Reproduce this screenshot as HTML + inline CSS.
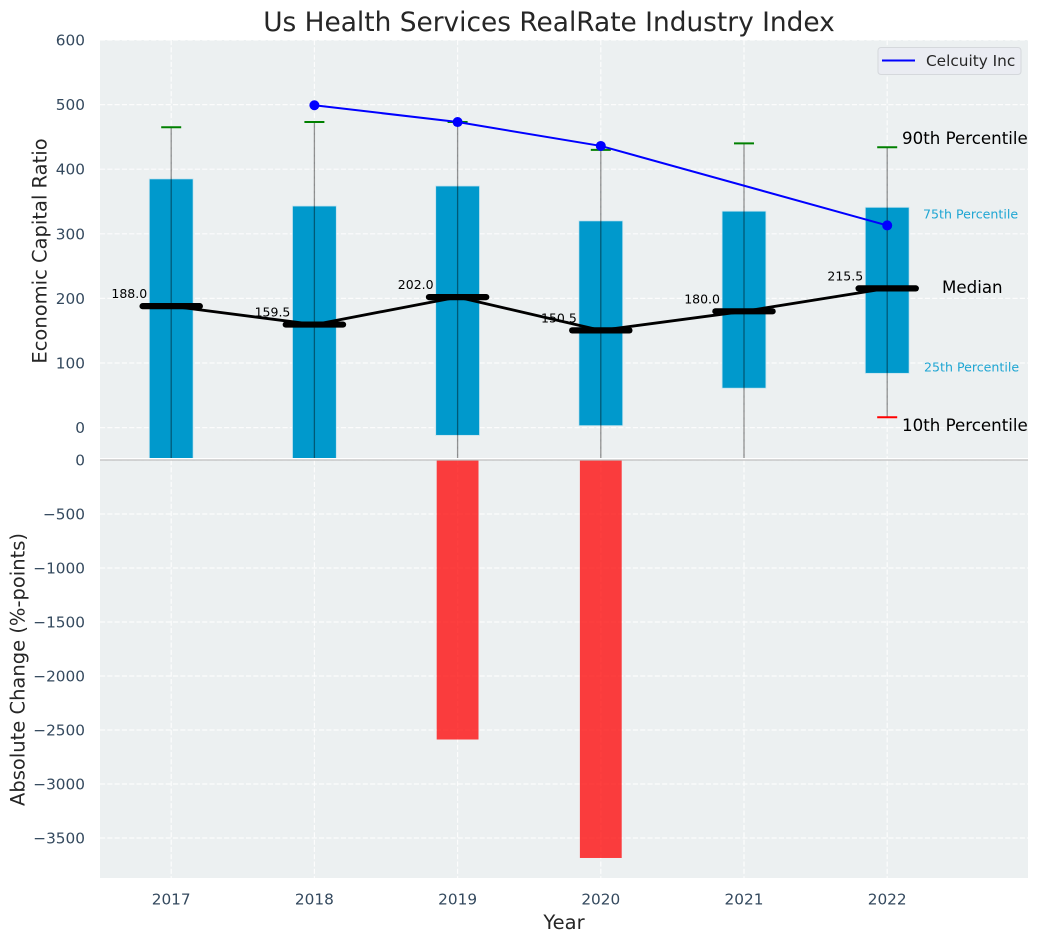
<!DOCTYPE html>
<html lang="en">
<head>
<meta charset="utf-8">
<title>Us Health Services RealRate Industry Index</title>
<style>
html,body{margin:0;padding:0;background:#fff;width:1039px;height:942px;overflow:hidden}
svg{display:block;font-family:"DejaVu Sans","Liberation Sans",sans-serif}
</style>
</head>
<body>
<svg id="chart" width="1039" height="942" viewBox="0 0 1039 942" xmlns="http://www.w3.org/2000/svg">
<defs>
<clipPath id="clip-top"><rect x="100" y="40" width="928" height="418"></rect></clipPath>
<clipPath id="clip-bottom"><rect x="100" y="460" width="928" height="418"></rect></clipPath>
</defs>
<text x="549" y="31" text-anchor="middle" font-size="26.4" fill="#262626">Us Health Services RealRate Industry Index</text>
<rect x="100" y="40" width="928" height="418" fill="#ecf0f1"></rect>
<rect x="100" y="460" width="928" height="418" fill="#ecf0f1"></rect>
<g id="g-grid"></g>
<g id="g-top" clip-path="url(#clip-top)"></g>
<g id="g-bottom" clip-path="url(#clip-bottom)"></g>
<line x1="100" y1="460" x2="1028" y2="460" stroke="#bdbdbd" stroke-width="1.2"></line>
<g id="g-labels"></g>
<text transform="translate(46.5,251) rotate(-90)" text-anchor="middle" font-size="19.5" fill="#262626">Economic Capital Ratio</text>
<text transform="translate(24.5,669.5) rotate(-90)" text-anchor="middle" font-size="19.5" fill="#262626">Absolute Change (%-points)</text>
<text x="564" y="929" text-anchor="middle" font-size="19.5" fill="#262626">Year</text>
<g>
<rect x="878" y="47.5" width="143" height="27" rx="3" fill="#eaecf2" stroke="#d5d8dc" stroke-width="1"></rect>
<line x1="882" y1="60.5" x2="915" y2="60.5" stroke="#0000ff" stroke-width="2"></line>
<text x="926" y="66" font-size="15.3" fill="#262626">Celcuity Inc</text>
</g>
<text x="902" y="144" font-size="16.67" fill="#000">90th Percentile</text>
<text x="923" y="218.5" font-size="12.6" fill="#1fa6d3">75th Percentile</text>
<text x="942" y="293" font-size="16.67" fill="#000">Median</text>
<text x="924" y="371.5" font-size="12.6" fill="#1fa6d3">25th Percentile</text>
<text x="902" y="431" font-size="16.67" fill="#000">10th Percentile</text>
</svg>
<script>
var years = [2017, 2018, 2019, 2020, 2021, 2022];
var p90 = [465, 473, 473, 430, 440, 434];
var p75 = [385, 343, 374, 320, 335, 341];
var medians = [188.0, 159.5, 202.0, 150.5, 180.0, 215.5];
var p25 = [-70, -60, -12, 3, 61, 84];
var p10 = [-160, -150, -120, -100, -70, 16];
var company = [null, 499, 473, 436, null, 313];
var change = [0, 0, -2588, -3685, 0, 0];
var topTicks = [0, 100, 200, 300, 400, 500, 600];
var bottomTicks = [0, -500, -1000, -1500, -2000, -2500, -3000, -3500];

var NS = 'http://www.w3.org/2000/svg';
function xAxis(year) { return 171.2 + (year - 2017) * 143.2; }
function xOffset(units) { return units * 143.2; }
function yTop(v) { return 427.6 - v * 0.646; }
function yBottom(v) { return 460 - v * 0.108; }
function make(parent, tag, attrs) {
  var el = document.createElementNS(NS, tag);
  for (var k in attrs) { el.setAttribute(k, attrs[k]); }
  parent.appendChild(el);
  return el;
}
var grid = document.getElementById('g-grid');
var topG = document.getElementById('g-top');
var bottomG = document.getElementById('g-bottom');
var labels = document.getElementById('g-labels');
var el;
var gridDash = '5.1 2.2';

topTicks.forEach(function (t) {
  el = make(grid, 'line', {x1: 100, x2: 1028, y1: yTop(t), y2: yTop(t), stroke: '#fff', 'stroke-width': 1.2, 'stroke-dasharray': gridDash, opacity: 0.85});
  
  
  el = make(labels, 'text', {x: 85, y: yTop(t) + 5.5, 'text-anchor': 'end', 'font-size': 15.3, fill: '#34495e'});
  el.textContent = String(t);
  
  
});
bottomTicks.forEach(function (t) {
  el = make(grid, 'line', {x1: 100, x2: 1028, y1: yBottom(t), y2: yBottom(t), stroke: '#fff', 'stroke-width': 1.2, 'stroke-dasharray': gridDash, opacity: 0.85});
  
  
  el = make(labels, 'text', {x: 85, y: yBottom(t) + 5.5, 'text-anchor': 'end', 'font-size': 15.3, fill: '#34495e'});
  el.textContent = String(t).replace('-', '\u2212');
  
  
});
years.forEach(function (yr) {
  var x = xAxis(yr);
  el = make(grid, 'line', {x1: x, x2: x, y1: 40, y2: 458, stroke: '#fff', 'stroke-width': 1.2, 'stroke-dasharray': gridDash, opacity: 0.85});
  
  
  el = make(grid, 'line', {x1: x, x2: x, y1: 460, y2: 878, stroke: '#fff', 'stroke-width': 1.2, 'stroke-dasharray': gridDash, opacity: 0.85});
  
  
  el = make(labels, 'text', {x: x, y: 904.5, 'text-anchor': 'middle', 'font-size': 15.3, fill: '#34495e'});
  el.textContent = String(yr);
  
  
});

years.forEach(function (yr, i) {
  var x = xAxis(yr);
  var halfBox = xOffset(0.153);
  var yHigh = yTop(p75[i]);
  var yLow = yTop(p25[i]);
  el = make(topG, 'rect', {x: x - halfBox, y: yHigh, width: halfBox * 2, height: yLow - yHigh, fill: '#0099cc', stroke: '#c4e3ee', 'stroke-width': 0.8});
  
  
  el = make(topG, 'line', {x1: x, x2: x, y1: yTop(p90[i]), y2: yTop(p10[i]), stroke: '#000', 'stroke-opacity': 0.42, 'stroke-width': 1.3});
  
  
  el = make(topG, 'line', {x1: x - 10, x2: x + 10, y1: yTop(p90[i]), y2: yTop(p90[i]), stroke: '#008000', 'stroke-width': 2});
  
  
  el = make(topG, 'line', {x1: x - 10, x2: x + 10, y1: yTop(p10[i]), y2: yTop(p10[i]), stroke: '#ff0000', 'stroke-width': 2});
  
  
});

var medianPts = years.map(function (yr, i) { return xAxis(yr) + ',' + yTop(medians[i]); }).join(' ');
el = make(topG, 'polyline', {points: medianPts, fill: 'none', stroke: '#000', 'stroke-width': 2.8, 'stroke-linejoin': 'round'});



years.forEach(function (yr, i) {
  var x = xAxis(yr);
  var my = yTop(medians[i]);
  var half = xOffset(0.2);
  el = make(topG, 'line', {x1: x - half, x2: x + half, y1: my, y2: my, stroke: '#000', 'stroke-width': 6.2, 'stroke-linecap': 'round'});
  
  
  el = make(labels, 'text', {x: x - 24, y: my - 8, 'text-anchor': 'end', 'font-size': 12.5, fill: '#000'});
  el.textContent = medians[i].toFixed(1);
  
  
});

var companyPts = [];
years.forEach(function (yr, i) {
  if (company[i] !== null) { companyPts.push(xAxis(yr) + ',' + yTop(company[i])); }
});
el = make(topG, 'polyline', {points: companyPts.join(' '), fill: 'none', stroke: '#0000ff', 'stroke-width': 2});


years.forEach(function (yr, i) {
  if (company[i] === null) { return; }
  el = make(topG, 'circle', {cx: xAxis(yr), cy: yTop(company[i]), r: 5, fill: '#0000ff'});
  
  
});

years.forEach(function (yr, i) {
  if (change[i] === 0) { return; }
  var x = xAxis(yr);
  var half = xOffset(0.146);
  var y0 = yBottom(0);
  var y1 = yBottom(change[i]);
  el = make(bottomG, 'rect', {x: x - half, y: y0, width: half * 2, height: y1 - y0, fill: '#ff0000', 'fill-opacity': 0.75});
  
  
});
</script>
</body>
</html>
